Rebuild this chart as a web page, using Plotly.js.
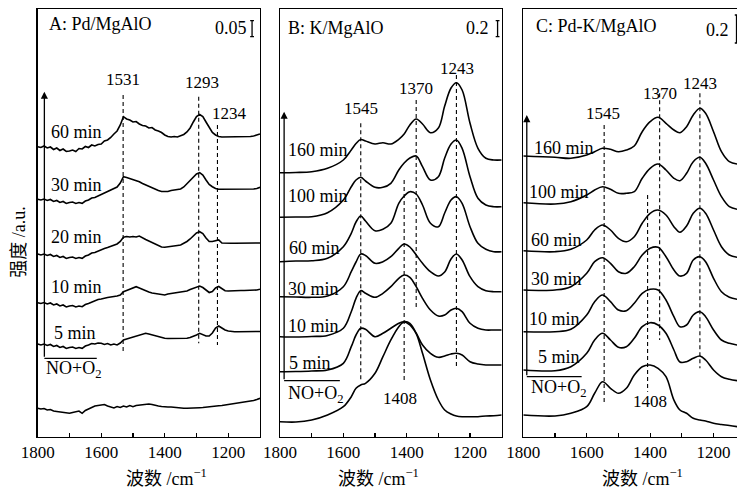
<!DOCTYPE html>
<html><head><meta charset="utf-8">
<script src="https://cdn.plot.ly/plotly-3.0.1.min.js"></script>
<style>html,body{margin:0;padding:0;background:#fff}#chart{width:737px;height:489px}</style>
</head><body><div id="chart"></div>
<script>
// ---------- DATA (intensity in a.u., offset spectra) ----------
const wnA = [1800,1790,1780,1770,1760,1750,1740,1730,1720,1710,
             1700,1690,1680,1670,1660,1650,1640,1630,1620,1610,
             1600,1590,1580,1570,1560,1550,1540,1530,1520,1510,
             1500,1490,1480,1470,1460,1450,1440,1430,1420,1410,
             1400,1390,1380,1370,1360,1350,1340,1330,1320,1310,
             1300,1290,1280,1270,1260,1250,1240,1230,1220,1210,
             1200,1190,1180,1170,1160,1150,1140,1130,1120,1110,1100];
const A_60 = [290.3,289.5,291,289,290,287.5,289,286.5,288,285.5,
              286,287,285.5,288.5,288,290.5,289.5,292,291,292.5,
              293,296,297,299.5,303,306,312,320.3,318,317,
              315,315.5,313,311.5,311,309,309.5,307,306,304.5,
              302,300.5,300,300.5,300,301,302.5,305,309,315,
              320.5,322.5,320.5,315,309,304.5,302,300.5,300,300,
              300,300,300,300,300,300,300,300.5,301,302,303];
const A_30 = [237.7,237,238,236.5,237.5,235.5,236.5,234.5,235.5,233.5,
              234.5,235,233.5,234.5,233.7,236,237,239,239.5,241,
              242,244,245.5,247,248.7,250,254,260.3,259.5,258.5,
              257.5,256.5,255.3,253.5,252,250.5,249.5,248,246.5,245.5,
              245.3,245.5,246.5,247,247.5,248,250,253,256.5,260,
              263,264.3,262,257,252.5,250.3,248.5,247.7,247.7,248,
              248,248,248,248,248,248,248,248,248,248.5,249.7];
const A_20 = [183,182,183,181.5,182.5,180.5,181.5,179.5,180.5,178.5,
              179.5,180,178.5,179.5,178.7,181,182,184,184.5,186,
              187,188.5,189.5,190.5,191.5,193,195.5,199.7,200.5,200,
              200.5,200,201,199,197.5,196,194.5,193,191,190,
              189.7,190,190.5,191,191.5,192,193.5,195.5,198,201,
              204,205.3,203.5,199,195.5,195.5,196.5,197,194,193.7,
              193.7,193.7,193.7,193.7,193.7,193.7,193.7,193.7,193.7,193.7,194];
const A_10 = [134.3,133.5,134.5,133,134,132,133,131,132,130,
              131,131.5,130,131,130.3,132.5,133.5,135,136,137.5,
              138,139,139.5,140,140.3,141,142,145.3,146.5,148,
              149.5,150.3,149,147.5,146,145,144,143.5,142.5,142,
              142,143,143.5,144,144.3,144.3,145,146,147.5,148.5,
              150,151,149.5,146.5,144.5,145.5,149,150.5,148,146.3,
              146,146.3,146.5,146.5,146.5,146.5,146.5,146.5,146.5,147,147.7];
const A_5  = [93,92,93,91.5,92.5,90.5,91.5,89.5,90.5,88.5,
              89.5,90,88.5,89.5,88.7,91,92,93.5,93,94,
              93.7,92.5,93.5,92,93,92,94,97,98,99,
              100,101,102,103,103.7,103,102,101,100,99.5,
              98.7,98.5,98.5,98.7,98.7,98.7,98.7,98.7,99.5,100.5,
              102,103.7,102.5,101,101,104,109,111,109,107,
              106,105.5,105.3,105.3,105.3,105.3,105.3,105.3,105.3,105.3,105.5];
const A_gas = [28.7,28,28.5,27,27.5,26,25.5,25,24.5,24,
               23.7,24.5,25.5,26,23.7,26.5,28,29.5,31,31.5,
               32,32.5,31,30,29,30.5,29.5,31,30,31.5,
               30.3,31.5,32,32.5,33,33,32.5,31.5,31,30.5,
               30,30,30,29.5,29,29,28.7,28.7,28.7,28.7,
               29,29.3,29.5,30,30.3,30.5,31,31.3,31.5,32,
               32.3,32.7,33,33.5,34,34.5,35,35.5,36.5,37.5,38.7];

const wnB = [1800,1750,1700,1650,1600,1575,1560,1545,1530,1500,1475,1450,1425,1408,
             1390,1370,1350,1325,1300,1280,1260,1243,1225,1200,1175,1150,1125,1100];
const B_160 = [264.3,264.5,265.3,268.7,277,287,293.5,297.5,296,293,294.3,293,297.7,303,312,318,313,304.3,309,331,349,354.3,347,313.7,288.7,278.7,277,277];
const B_100 = [219.7,220,220.3,224.3,237,250.3,257,259.7,256,249.7,249.7,253.7,267,274,279,281,270.3,257,260.3,279,293,297,288.7,260.3,238.7,232,230.3,230.3];
const B_60  = [175.3,176,176.3,178.7,190.3,203.7,215,221,216,206.3,207.7,213.7,233.7,241,245.3,243,232,213.7,210.3,224,237,240.3,233.7,210.3,193.7,187.7,185.3,185.3];
const B_30  = [140.3,140,139.7,141,150.3,165.3,175,183,181.5,173.7,175.3,180.3,188.7,193,190,182,173.7,165.3,161,165,178,183,177,160.3,150.3,146.3,145.3,145.3];
const B_10  = [100.3,100,100.5,101.5,108.7,125.3,138.7,146.3,143.7,139.7,143.7,150.3,158.7,162,159.7,150.3,138.7,127,121,122,127,128.7,125.3,113.7,108.7,107,107,107];
const B_5   = [65.3,65.5,66,67,73.7,90.3,102,108.7,107.7,100.3,103.7,108.7,113.7,115.3,112,103.7,92,83.7,79.7,81,83,83.7,82,75.3,73,72,72,72];
const B_gas = [15.3,15,17,22,30.3,40.3,48.7,52,53.7,63.7,80.3,97,110.3,115.3,113.7,103.7,83.7,57,37,27,23,21,20.3,20.3,20.3,21,21.3,22];

const wnC = [1800,1700,1650,1600,1575,1550,1525,1500,1475,1450,1425,1400,1375,1350,
             1325,1306,1285,1264,1243,1225,1200,1175,1150,1125];
const C_160 = [281,279.7,278.7,282,285.3,288.7,287.7,285.3,287,291,305.3,315.3,319.7,313.7,307,304.3,310.3,322,328.7,323.7,305.3,285.3,275.3,273];
const C_100 = [234.3,233,235.3,242,247,250.3,247.7,243.7,243.7,245.3,258.7,268.7,273,267,258.7,256.3,263.7,275.3,279.7,273.7,257,240.3,230.3,227.7];
const C_60  = [186.3,185.3,187.7,197,207,212,207,198.7,195.3,200.3,213.7,223.7,227,222,210.3,204.7,211,223.7,228.7,223.7,207,190.3,182,179.7];
const C_30  = [147,147,150.3,163.7,175.3,179.3,173.7,165.3,163.7,170.3,182,188.7,189.7,180.3,167,161,163.7,177,180.3,175.3,158.7,145.3,139.7,137.7];
const C_10  = [105.3,105.3,107.7,122,135.3,142,135.3,127,126.3,133.7,143.7,147.7,147,137,120.3,110.3,112,122,125.3,120.3,107,97,93.7,92];
const C_5   = [67,66.3,70.3,83.7,97,103.7,97,89.7,90.3,98.7,110.3,114.3,112,103.7,87,75,75.3,78.7,81,77,67,60.3,57.7,56.3];
const C_gas = [22,21,23.7,30.3,43.7,55.3,48.7,43.7,48.7,62,70.3,72,68.7,60.3,37,27,23.7,18.7,17,16,13.7,12.5,11.5,10.3];

const timesA = ['60 min','30 min','20 min','10 min','5 min'];
const timesBC = ['160 min','100 min','60 min','30 min','10 min','5 min'];
const peaksA = [1531, 1293, 1234];
const peaksB = [1545, 1370, 1243, 1408];
const peaksC = [1545, 1370, 1243, 1408];
const panelTitles = ['A: Pd/MgAlO', 'B: K/MgAlO', 'C: Pd-K/MgAlO'];
const scaleText = ['0.05', '0.2', '0.2'];

// ---------- BUILD ----------
const FONT = 'Liberation Serif, Times New Roman, Noto Sans CJK SC, serif';
const traces = [];
function addCurves(xs, list, xa, ya, shape) {
  list.forEach(ys => traces.push({
    x: xs, y: ys, xaxis: xa, yaxis: ya, type: 'scatter', mode: 'lines',
    line: {color: '#000', width: 1.6, shape: shape, smoothing: 1},
    hoverinfo: 'skip', showlegend: false, cliponaxis: true
  }));
}
addCurves(wnA, [A_60, A_30, A_20, A_10, A_5, A_gas], 'x', 'y', 'linear');
addCurves(wnB, [B_160, B_100, B_60, B_30, B_10, B_5, B_gas], 'x2', 'y2', 'spline');
addCurves(wnC, [C_160, C_100, C_60, C_30, C_10, C_5, C_gas], 'x3', 'y3', 'spline');

function xax(domain, range) {
  return {
    domain: domain, range: range, tickvals: [1800,1600,1400,1200],
    ticks: 'inside', ticklen: 4, tickwidth: 1.2, tickcolor: '#000',
    minor: {tickvals: [1700,1500,1300], ticks: 'inside', ticklen: 4, tickwidth: 1.2, tickcolor: '#000', showgrid: false},
    showline: true, linecolor: '#000', linewidth: 1.3, mirror: true,
    showgrid: false, zeroline: false, fixedrange: true,
    tickfont: {family: FONT, size: 17, color: '#000'}
  };
}
function yax(anchor, mirror) {
  return {
    domain: [0.10695, 0.9816], range: [0.3, 428], anchor: anchor,
    showticklabels: false, ticks: '', showline: true, linecolor: '#000', linewidth: 1.3,
    mirror: mirror, showgrid: false, zeroline: false, fixedrange: true
  };
}

const ann = [];
const shapes = [];
function txt(xr, yr, x, y, t, anchor, size) {
  ann.push({xref: xr, yref: yr, x: x, y: y, text: t, showarrow: false,
    xanchor: anchor || 'center', yanchor: 'middle', borderpad: 0,
    font: {family: FONT, size: size || 18, color: '#000'}});
}
function dash(xr, yr, x, y0, y1) {
  shapes.push({type: 'line', xref: xr, yref: yr, x0: x, x1: x, y0: y0, y1: y1,
    line: {color: '#000', width: 1.1, dash: '4px,3px'}});
}
function seg(xr, yr, x0, y0, x1, y1) {
  shapes.push({type: 'line', xref: xr, yref: yr, x0: x0, x1: x1, y0: y0, y1: y1,
    line: {color: '#000', width: 1.3}});
}
function arrow(xr, yr, x, yTip, yBase, xEnd) {
  ann.push({xref: xr, yref: yr, axref: xr, ayref: yr, x: x, y: yTip, ax: x, ay: yBase,
    text: '', showarrow: true, arrowhead: 2, arrowsize: 1.1, arrowwidth: 1.3, arrowcolor: '#000', standoff: 0});
  seg(xr, yr, x, yBase, xEnd, yBase);
}

// Panel A
txt('x','y',1767,413.3,panelTitles[0],'left');
txt('x','y',1138.7,409,scaleText[0],'right');
seg('x','y',1125,400.3,1125,416.3); seg('x','y',1131,400.3,1119,400.3); seg('x','y',1131,416.3,1119,416.3);
txt('x','y',peaksA[0],357,String(peaksA[0]),'center',17);
txt('x','y',1284,354.3,String(peaksA[1]),'center',17);
txt('x','y',1197.5,323.7,String(peaksA[2]),'center',17);
dash('x','y',peaksA[0],342,85.3); dash('x','y',peaksA[1],340.3,93.7); dash('x','y',peaksA[2],312,92);
[305.3,252,199.7,150.3].forEach((y,i)=>txt('x','y',1761,y,timesA[i],'left'));
txt('x','y',1751,103.7,timesA[4],'left');
txt('x','y',1777,67,'NO+O<sub>2</sub>','left');
arrow('x','y',1779,345.3,78.7,1614);

// Panel B
txt('x2','y2',1779,408.7,panelTitles[1],'left');
txt('x2','y2',1137.5,408.7,scaleText[1],'right');
seg('x2','y2',1113,400.3,1113,416.3); seg('x2','y2',1119,400.3,1107,400.3); seg('x2','y2',1119,416.3,1107,416.3);
txt('x2','y2',1545.4,328.7,String(peaksB[0]),'center',17);
txt('x2','y2',1372,348.7,String(peaksB[1]),'center',17);
txt('x2','y2',1242.6,368.7,String(peaksB[2]),'center',17);
txt('x2','y2',1421,38.7,String(peaksB[3]),'center',17);
dash('x2','y2',peaksB[0],313.7,57); dash('x2','y2',peaksB[1],337,127);
dash('x2','y2',peaksB[2],362,70.3); dash('x2','y2',peaksB[3],257,57);
[[1779,287],[1779,241],[1774,188.7],[1779,147.7],[1779,111],[1774,73.7]].forEach((p,i)=>txt('x2','y2',p[0],p[1],timesBC[i],'left'));
txt('x2','y2',1779,42,'NO+O<sub>2</sub>','left');
arrow('x2','y2',1787,325.3,56.3,1611);

// Panel C
txt('x3','y3',1764,411.3,panelTitles[2],'left');
txt('x3','y3',1148,407,scaleText[2],'right');
seg('x3','y3',1127.5,394,1127.5,422); seg('x3','y3',1133,394,1122,394); seg('x3','y3',1133,422,1122,422);
txt('x3','y3',1547.6,323.7,String(peaksC[0]),'center',17);
txt('x3','y3',1368.8,343.7,String(peaksC[1]),'center',17);
txt('x3','y3',1242.6,353.7,String(peaksC[2]),'center',17);
txt('x3','y3',1400,35.3,String(peaksC[3]),'center',17);
dash('x3','y3',peaksC[0],312,32); dash('x3','y3',peaksC[1],343.7,97);
dash('x3','y3',peaksC[2],343.7,68.7); dash('x3','y3',peaksC[3],242,45.3);
[[1768,288.7],[1784,245.3],[1779,197],[1779,158],[1784,117.7],[1758,80.3]].forEach((p,i)=>txt('x3','y3',p[0],p[1],timesBC[i],'left'));
txt('x3','y3',1779,48.7,'NO+O<sub>2</sub>','left');
arrow('x3','y3',1789,322,60.3,1616);

// Axis titles
const xTitle = '波数 /cm<sup>−1</sup>';
[[166,477],[378.3,477],[642.5,477]].forEach(p => txt('paper','paper',p[0]/737,(489-p[1])/489,xTitle,'center',18));
ann.push({xref:'paper', yref:'paper', x: 19/737, y: (489-241.7)/489, text: '强度 /a.u.', textangle: -90,
  showarrow: false, xanchor: 'center', yanchor: 'middle', borderpad: 0, font: {family: FONT, size: 18, color: '#000'}});

const layout = {
  width: 737, height: 489, margin: {l: 0, r: 0, t: 0, b: 0},
  paper_bgcolor: '#fff', plot_bgcolor: '#fff', showlegend: false,
  xaxis: Object.assign(xax([37.7/737, 260/737], [1800, 1100]), {anchor: 'y'}),
  xaxis2: Object.assign(xax([280/737, 501.7/737], [1800, 1100]), {anchor: 'y2'}),
  xaxis3: Object.assign(xax([523.3/737, 1], [1800, 1126]), {anchor: 'y3'}),
  yaxis: yax('x', true), yaxis2: yax('x2', true), yaxis3: yax('x3', false),
  annotations: ann, shapes: shapes
};
Plotly.newPlot('chart', traces, layout, {displayModeBar: false, staticPlot: true});
</script></body></html>
